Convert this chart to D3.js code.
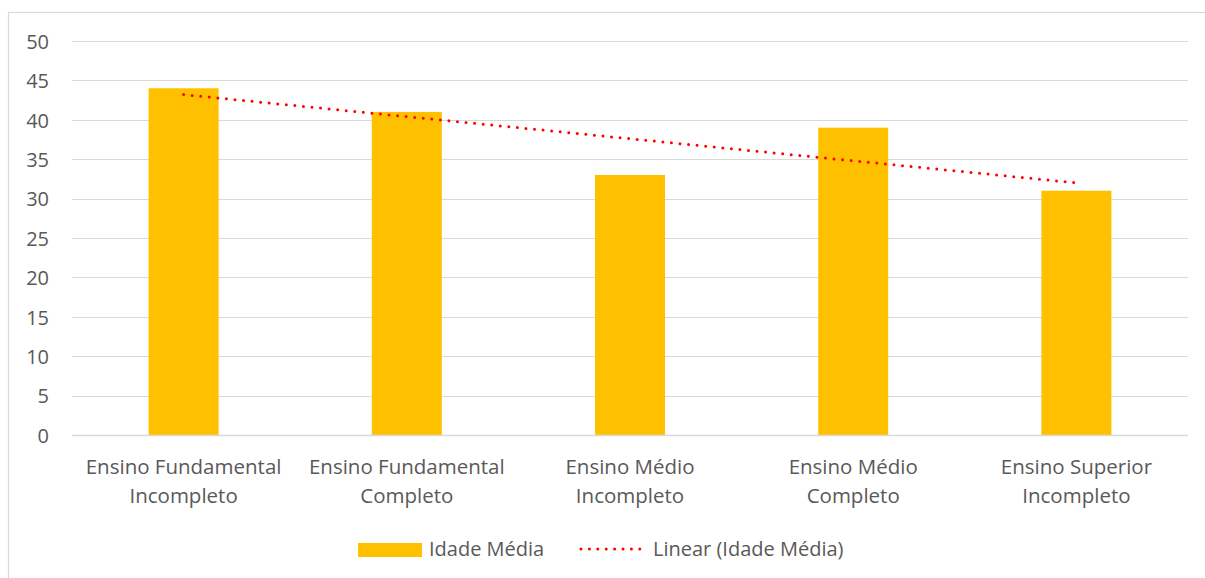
<!DOCTYPE html>
<html>
<head>
<meta charset="utf-8">
<script src="https://cdn.jsdelivr.net/npm/d3@7"></script>
<style>
  html, body { margin: 0; padding: 0; background: #fff; }
  svg { display: block; }
  text { font-family: "Open Sans", Lato, sans-serif; fill: #595959; }
</style>
</head>
<body>
<svg id="chart" width="1205" height="578"></svg>
<script>
// Categories (two-line labels) and series values
const categories = [
  ["Ensino Fundamental", "Incompleto"],
  ["Ensino Fundamental", "Completo"],
  ["Ensino Médio", "Incompleto"],
  ["Ensino Médio", "Completo"],
  ["Ensino Superior", "Incompleto"]
];
const idadeMedia = [44, 41, 33, 39, 31];
const yTicks = [0, 5, 10, 15, 20, 25, 30, 35, 40, 45, 50];
const seriesName = "Idade Média";
const trendName = "Linear (Idade Média)";

const svg = d3.select("#chart");
const FONT = 20;

// Chart frame (continues past the right/bottom edges)
svg.append("rect")
  .attr("x", 8.5).attr("y", 12.5)
  .attr("width", 1220).attr("height", 600)
  .attr("fill", "#fff").attr("stroke", "#d9d9d9").attr("stroke-width", 1.2);

const plot = { left: 72, right: 1188, top: 41, bottom: 435 };

const keys = categories.map((c, i) => i);
const x = d3.scaleBand().domain(keys).range([plot.left, plot.right]).paddingInner(0).paddingOuter(0);
const y = d3.scaleLinear().domain([0, 50]).range([plot.bottom, plot.top]);
const barW = 70;

// Gridlines
svg.append("g")
  .selectAll("line").data(yTicks).join("line")
  .attr("x1", plot.left).attr("x2", plot.right)
  .attr("y1", d => Math.round(y(d)) + 0.5).attr("y2", d => Math.round(y(d)) + 0.5)
  .attr("stroke", "#d9d9d9").attr("stroke-width", 1.2);

// Y axis labels
const yAxis = d3.axisLeft(y).tickValues(yTicks).tickSize(0).tickPadding(0);
const gy = svg.append("g").attr("transform", `translate(49,0)`).call(yAxis);
gy.select(".domain").remove();
gy.selectAll("text")
  .attr("font-size", FONT).attr("fill", "#595959")
  .style("font-family", "\"Open Sans\", Lato, sans-serif")
  .attr("dy", "0.36em");

// Bars
svg.append("g")
  .selectAll("rect").data(idadeMedia).join("rect")
  .attr("x", (d, i) => x(i) + x.bandwidth() / 2 - barW / 2)
  .attr("width", barW)
  .attr("y", d => y(d))
  .attr("height", d => y(0) - y(d))
  .attr("fill", "#ffc000");

// Zero baseline drawn over the bars
svg.append("line")
  .attr("x1", plot.left).attr("x2", plot.right)
  .attr("y1", Math.round(y(0)) + 0.5).attr("y2", Math.round(y(0)) + 0.5)
  .attr("stroke", "#d9d9d9").attr("stroke-width", 1.5);

// Linear trendline (least squares over category index)
const n = idadeMedia.length;
const xs = d3.range(1, n + 1);
const mx = d3.mean(xs), my = d3.mean(idadeMedia);
const slope = d3.sum(xs, (v, i) => (v - mx) * (idadeMedia[i] - my)) / d3.sum(xs, v => (v - mx) ** 2);
const intercept = my - slope * mx;
const trend = xs.map(v => intercept + slope * v);

const line = d3.line()
  .x((d, i) => x(i) + x.bandwidth() / 2)
  .y(d => y(d));
svg.append("path")
  .datum(trend)
  .attr("d", line)
  .attr("fill", "none")
  .attr("stroke", "#ff0000")
  .attr("stroke-width", 3)
  .attr("stroke-linecap", "round")
  .attr("stroke-dasharray", "0 8.6");

// Category labels
const gx = svg.append("g");
categories.forEach((lines, i) => {
  const cx = x(i) + x.bandwidth() / 2;
  const t = gx.append("text")
    .attr("text-anchor", "middle")
    .attr("font-size", 20.5);
  lines.forEach((s, j) => {
    t.append("tspan").attr("x", cx).attr("y", 474 + j * 29).text(s);
  });
});

// Legend
const lg = svg.append("g");
lg.append("rect").attr("x", 358).attr("y", 543).attr("width", 64).attr("height", 14).attr("fill", "#ffc000");
lg.append("text").attr("x", 429).attr("y", 556).attr("font-size", FONT).text(seriesName);
lg.append("line")
  .attr("x1", 581).attr("x2", 640).attr("y1", 549).attr("y2", 549)
  .attr("stroke", "#ff0000").attr("stroke-width", 3)
  .attr("stroke-linecap", "round").attr("stroke-dasharray", "0 8.4");
lg.append("text").attr("x", 653).attr("y", 556).attr("font-size", FONT).text(trendName);
</script>
</body>
</html>
